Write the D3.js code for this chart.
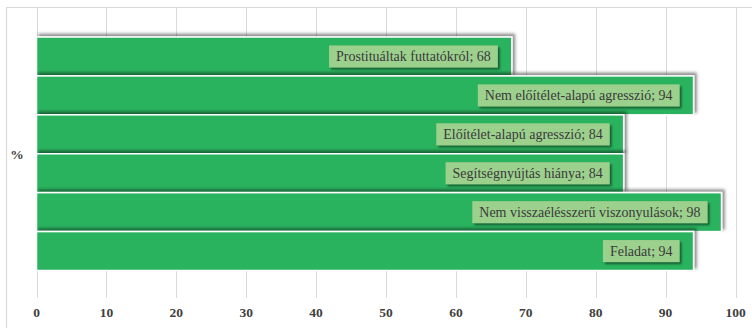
<!DOCTYPE html>
<html>
<head>
<meta charset="utf-8">
<script src="https://cdn.jsdelivr.net/npm/d3@7"></script>
<style>
  html, body { margin: 0; padding: 0; background: #fff; }
  svg { display: block; }
  svg text { font-family: "Liberation Serif", "DejaVu Serif", "Times New Roman", serif; }
</style>
</head>
<body>
<script>
// Categories (top to bottom) and their percentages
const categories = [
  "Prostituáltak futtatókról",
  "Nem előítélet-alapú agresszió",
  "Előítélet-alapú agresszió",
  "Segítségnyújtás hiánya",
  "Nem visszaélésszerű viszonyulások",
  "Feladat"
];
const values = [68, 94, 84, 84, 98, 94];
const xTicks = [0, 10, 20, 30, 40, 50, 60, 70, 80, 90, 100];
const axisTitle = "%";

const W = 752, H = 328;
const svg = d3.select("body").append("svg").attr("width", W).attr("height", H);

const defs = svg.append("defs");
const barShadow = defs.append("filter").attr("id", "barShadow")
  .attr("x", "-5%").attr("y", "-30%").attr("width", "115%").attr("height", "160%");
barShadow.append("feDropShadow").attr("dx", 2.5).attr("dy", -2.5)
  .attr("stdDeviation", 1.8).attr("flood-color", "#000").attr("flood-opacity", 0.45);
const lblShadow = defs.append("filter").attr("id", "lblShadow")
  .attr("x", "-10%").attr("y", "-30%").attr("width", "130%").attr("height", "180%");
lblShadow.append("feDropShadow").attr("dx", 2).attr("dy", 2)
  .attr("stdDeviation", 1.3).attr("flood-color", "#000").attr("flood-opacity", 0.5);

const x = d3.scaleLinear().domain([0, 100]).range([36.5, 735.5]);
const y = d3.scaleBand().domain(categories).range([37, 270.5]).paddingInner(0);

const plotTop = 7, plotBottom = 298;

// Chart frame
svg.append("path")
  .attr("d", `M6.5,${H} V${plotTop + 0.5} H${W}`)
  .attr("fill", "none").attr("stroke", "#d9d9d9").attr("stroke-width", 1.2);

// Vertical gridlines
svg.append("g").selectAll("line").data(xTicks).join("line")
  .attr("x1", d => Math.round(x(d)) + 0.5).attr("x2", d => Math.round(x(d)) + 0.5)
  .attr("y1", plotTop).attr("y2", plotBottom)
  .attr("stroke", "#d9d9d9").attr("stroke-width", 1);

// Bars
svg.append("g").selectAll("rect").data(values).join("rect")
  .attr("x", x(0))
  .attr("y", (d, i) => y(categories[i]))
  .attr("width", d => x(d) - x(0))
  .attr("height", y.bandwidth())
  .attr("fill", "#29b35f")
  .attr("stroke", "#ffffff").attr("stroke-width", 1.5)
  .attr("filter", "url(#barShadow)");

// Data labels
const lg = svg.append("g");
values.forEach((v, i) => {
  const txt = `${categories[i]}; ${v}`;
  const cy = y(categories[i]) + y.bandwidth() / 2;
  const right = x(v) - 14;
  const t = lg.append("text")
    .attr("x", right - 7).attr("y", cy)
    .attr("text-anchor", "end").attr("dominant-baseline", "central")
    .style("font-size", "14px")
    .attr("fill", "#3a3a3a").text(txt);
  const bb = t.node().getBBox();
  lg.insert("rect", () => t.node())
    .attr("x", bb.x - 7).attr("y", cy - 11)
    .attr("width", bb.width + 14).attr("height", 22)
    .attr("fill", "#9cd08d")
    .attr("filter", "url(#lblShadow)");
});

// X axis tick labels
svg.append("g").selectAll("text").data(xTicks).join("text")
  .attr("x", d => x(d)).attr("y", 312)
  .attr("text-anchor", "middle").attr("dominant-baseline", "central")
  .style("font-weight", "bold").style("font-size", "13.5px")
  .attr("fill", "#404040").text(d => d);

// Axis title
svg.append("text")
  .attr("x", 17).attr("y", 154)
  .attr("text-anchor", "middle").attr("dominant-baseline", "central")
  .style("font-weight", "bold").style("font-size", "13.5px")
  .attr("fill", "#404040").text(axisTitle);
</script>
</body>
</html>
